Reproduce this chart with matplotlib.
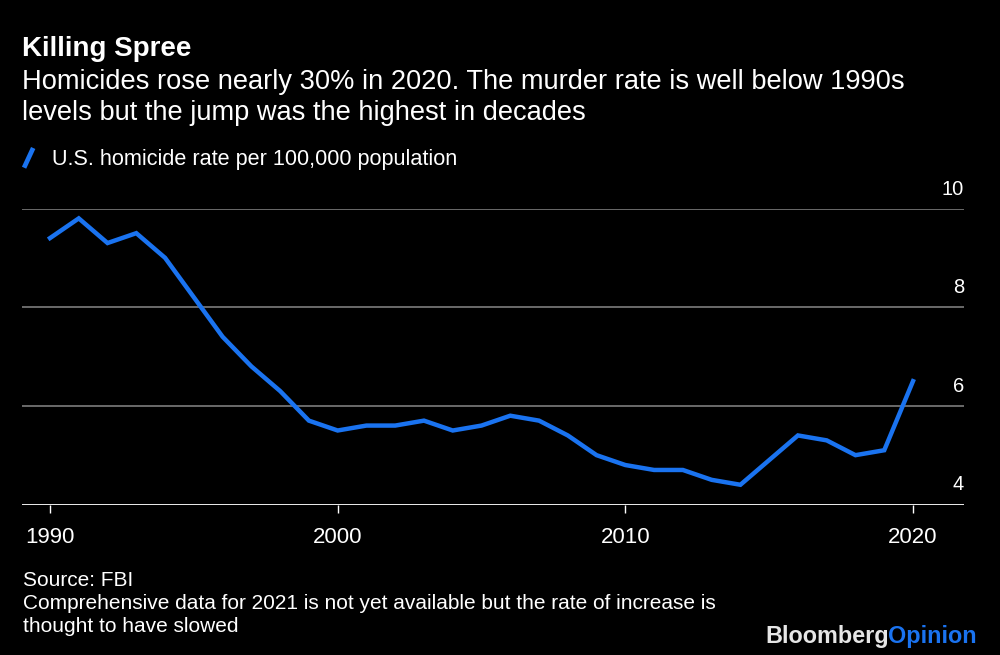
import numpy as np
import matplotlib
matplotlib.use("Agg")
import matplotlib.pyplot as plt
import matplotlib.transforms as mtransforms
from matplotlib.lines import Line2D
from matplotlib.legend_handler import HandlerLine2D

# Datos
years = list(range(1990, 2021))
rate = [9.4, 9.8, 9.3, 9.5, 9.0, 8.2, 7.4, 6.8, 6.3, 5.7,
        5.5, 5.6, 5.6, 5.7, 5.5, 5.6, 5.8, 5.7, 5.4, 5.0,
        4.8, 4.7, 4.7, 4.5, 4.4, 4.9, 5.4, 5.3, 5.0, 5.1,
        6.5]
y_ticks = [4, 6, 8, 10]
x_ticks = [1990, 2000, 2010, 2020]

title = "Killing Spree"
subtitle_lines = ["Homicides rose nearly 30% in 2020. The murder rate is well below 1990s",
                  "levels but the jump was the highest in decades"]
series_name = "U.S. homicide rate per 100,000 population"
footer_lines = ["Source: FBI",
                "Comprehensive data for 2021 is not yet available but the rate of increase is",
                "thought to have slowed"]

BLUE = "#1a73f0"
BG = "black"
W, H = 1000, 655

plt.rcParams['font.family'] = ['Liberation Sans', 'DejaVu Sans']


def fy(px):
    # pixel desde arriba -> fraccion de figura
    return 1 - px / H


class DiagHandler(HandlerLine2D):
    # clave de leyenda como trazo diagonal
    def create_artists(self, legend, orig_handle, xdescent, ydescent,
                       width, height, fontsize, trans):
        ln = Line2D([xdescent + 1, width - 1], [-ydescent - 0.2 * height, height * 1.1],
                    color=orig_handle.get_color(), lw=3.4,
                    solid_capstyle='butt')
        ln.set_transform(trans)
        return [ln]


fig = plt.figure(figsize=(10, 6.55), dpi=100, facecolor=BG)
ax = fig.add_axes([0.022, fy(504.5), 0.942, (504.5 - 208.5) / H])
ax.set_facecolor(BG)

line, = ax.plot(years, rate, color=BLUE, lw=3.2, solid_joinstyle='miter',
                clip_on=False, zorder=3)

ax.set_ylim(4, 10)
ax.set_xlim(1990 - 28 / 28.77, 2020 + 51 / 28.77)

for v in y_ticks[1:]:
    ax.axhline(v, color="#6a6a6a", lw=1.4, zorder=1)
ax.axhline(4, color="white", lw=1.3, zorder=2)

for s in ax.spines.values():
    s.set_visible(False)

ax.set_yticks([])
ax.set_xticks(x_ticks)
ax.set_xticklabels([str(x) for x in x_ticks])
ax.tick_params(axis='x', colors='white', length=6, width=1, pad=10,
               labelsize=16, labelcolor='white', direction='out')

ytr = ax.get_yaxis_transform()
off = mtransforms.ScaledTranslation(0, 14 / 100, fig.dpi_scale_trans)
for v in y_ticks:
    ax.text(1.0, v, str(v), transform=ytr + off, ha='right', va='baseline',
            color='white', fontsize=14.5)

fig.text(0.022, fy(56), title, color='white', fontsize=20,
         fontweight='bold', ha='left', va='baseline')
for i, s in enumerate(subtitle_lines):
    fig.text(0.022, fy(89 + 31 * i), s, color='white', fontsize=19.6,
             ha='left', va='baseline')
for i, s in enumerate(footer_lines):
    fig.text(0.023, fy(586 + 23 * i), s, color='white', fontsize=15,
             ha='left', va='baseline')

leg = fig.legend([line], [series_name], loc='upper left',
                 bbox_to_anchor=(0.014, fy(140)), frameon=False,
                 handler_map={Line2D: DiagHandler()}, handlelength=0.55,
                 handletextpad=0.8, fontsize=15.6, borderaxespad=0)
for t in leg.get_texts():
    t.set_color('white')

# logo
t1 = fig.text(0.765, fy(643), "Bloomberg", color='#e6e6e6', fontsize=16.8,
              fontweight='bold', ha='left', va='baseline')
fig.canvas.draw()
bb = t1.get_window_extent()
fig.text((bb.x1 - 1) / fig.bbox.width, fy(643), "Opinion", color=BLUE,
         fontsize=16.8, fontweight='bold', ha='left', va='baseline')

fig.savefig("out.png", dpi=100, facecolor=BG)
